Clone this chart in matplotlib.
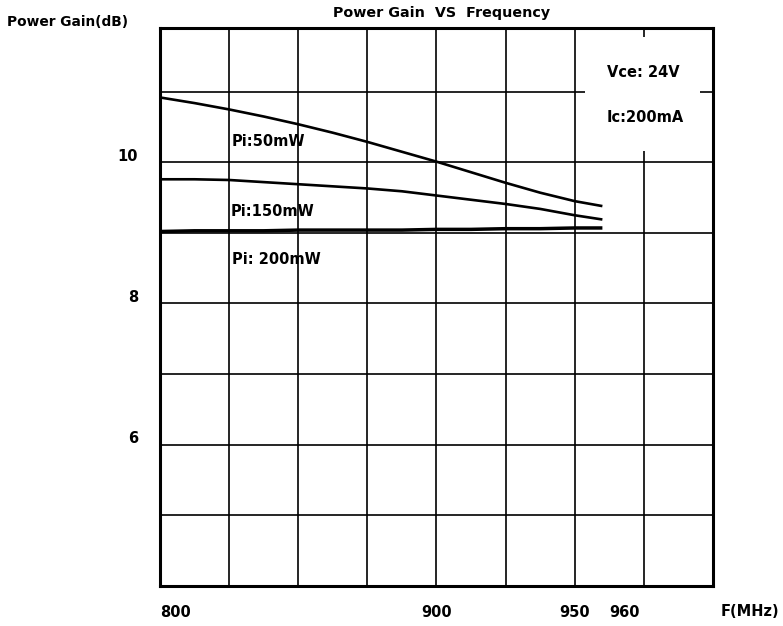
import matplotlib
matplotlib.use("Agg")
import matplotlib.pyplot as plt
from matplotlib import transforms
from matplotlib.patches import Rectangle

# Frequency points (MHz) and power gain curves (dB)
freq_mhz = [800, 812.5, 825, 837.5, 850, 862.5, 875, 887.5, 900,
            912.5, 925, 937.5, 950, 960]
gain_pi_50mw = [10.92, 10.84, 10.75, 10.65, 10.54, 10.42, 10.29, 10.15, 10.01,
                9.86, 9.71, 9.57, 9.45, 9.38]
gain_pi_150mw = [9.76, 9.76, 9.75, 9.72, 9.69, 9.66, 9.63, 9.59, 9.53,
                 9.47, 9.41, 9.34, 9.25, 9.19]
gain_pi_200mw = [9.02, 9.03, 9.03, 9.03, 9.04, 9.04, 9.04, 9.04, 9.05,
                 9.05, 9.06, 9.06, 9.07, 9.07]

curve_labels = ["Pi:50mW", "Pi:150mW", "Pi: 200mW"]
x_tick_values = [800, 900, 950, 960]
y_tick_values = [6, 8, 10]
condition_text = ["Vce: 24V", "Ic:200mA"]

FONT = "DejaVu Sans"

fig = plt.figure(figsize=(7.83, 6.26), dpi=100)
ax = fig.add_axes([0.2043, 0.0644, 0.9106 - 0.2043, 0.9548 - 0.0644])
ax.set_xlim(800, 1000)
ax.set_ylim(4, 11.9)

# grid every 25 MHz and every 1 dB
for xv in range(825, 1000, 25):
    ax.axvline(xv, color="black", lw=1.2, zorder=1)
for yv in range(5, 12):
    ax.axhline(yv, color="black", lw=1.2, zorder=1)

# blank panel behind the operating conditions
ax.add_patch(Rectangle((953.7, 10.16), 995.3 - 953.7, 11.78 - 10.16,
                       facecolor="white", edgecolor="none", zorder=2))

for s in ax.spines.values():
    s.set_linewidth(2.2)
    s.set_color("black")
ax.set_xticks([])
ax.set_yticks([])

ax.plot(freq_mhz, gain_pi_50mw, color="black", lw=1.9, zorder=3,
        solid_capstyle="butt", solid_joinstyle="round")
ax.plot(freq_mhz, gain_pi_150mw, color="black", lw=1.9, zorder=3,
        solid_capstyle="butt", solid_joinstyle="round")
ax.plot(freq_mhz, gain_pi_200mw, color="black", lw=2.5, zorder=3,
        solid_capstyle="butt", solid_joinstyle="round")

txt = dict(family=FONT, fontweight="bold", color="black")

# curve annotations
ax.text(825.9, 10.29, curve_labels[0], fontsize=10.5, va="center", ha="left", zorder=4, **txt)
ax.text(825.7, 9.31, curve_labels[1], fontsize=10.5, va="center", ha="left", zorder=4, **txt)
ax.text(826.0, 8.63, curve_labels[2], fontsize=10.5, va="center", ha="left", zorder=4, **txt)

# operating conditions
ax.text(961.6, 11.28, condition_text[0], fontsize=10.5, va="center", ha="left", zorder=4, **txt)
ax.text(961.7, 10.63, condition_text[1], fontsize=10.5, va="center", ha="left", zorder=4, **txt)

# x tick labels below the frame
xlab_tr = transforms.blended_transform_factory(ax.transData, ax.transAxes)
x_align = {800: ("left", 0), 900: ("center", 0), 950: ("center", 0), 960: ("left", 7)}
for xv in x_tick_values:
    ha, dx = x_align[xv]
    tr = transforms.offset_copy(xlab_tr, fig=fig, x=dx, y=-27, units="dots")
    ax.text(xv, 0, str(xv), transform=tr, fontsize=10.5, ha=ha, va="center", **txt)

# y tick labels left of the frame
ylab_tr = transforms.blended_transform_factory(ax.transAxes, ax.transData)
for yv in y_tick_values:
    tr = transforms.offset_copy(ylab_tr, fig=fig, x=-22, y=6, units="dots")
    ax.text(0, yv, str(yv), transform=tr, fontsize=10.5, ha="right", va="center", **txt)

fig.text(6.7 / 783, 1 - 21.7 / 626, "Power Gain(dB)", fontsize=9.9,
         ha="left", va="center", **txt)
fig.text(442 / 783, 1 - 13 / 626, "Power Gain  VS  Frequency", fontsize=10.3,
         ha="center", va="center", **txt)
fig.text(779 / 783, 1 - 612 / 626, "F(MHz)", fontsize=10.5,
         ha="right", va="center", **txt)

fig.savefig("out.png", dpi=100, facecolor="white")
